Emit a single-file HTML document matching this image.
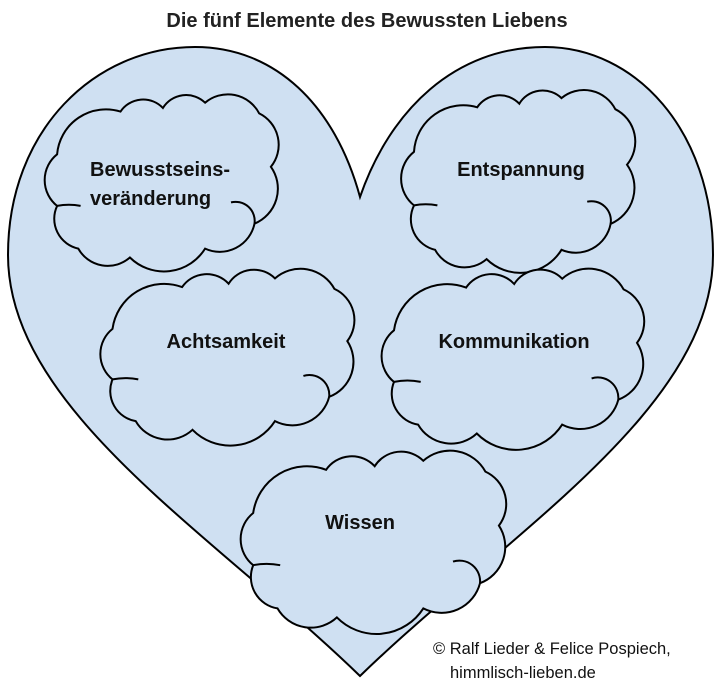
<!DOCTYPE html>
<html><head><meta charset="utf-8">
<style>
html,body{margin:0;padding:0;background:#fff;}
svg{display:block;}
</style></head>
<body>
<svg id="s" width="718" height="696" viewBox="0 0 718 696" xmlns="http://www.w3.org/2000/svg">
<text x="367" y="27" text-anchor="middle" font-family="Liberation Sans, sans-serif" font-weight="bold" font-size="20" fill="#222">Die fünf Elemente des Bewussten Liebens</text>
<path d="M360,197 C335,105 275,47 195,47 C95,47 8,130 8,255 C8,410 215,535 360,676 C505,535 713,410 713,255 C713,130 635,47 545,47 C455,47 390,110 360,197 Z" fill="#cfe0f2" stroke="#000" stroke-width="2"/>
<g id="clouds" fill="#cfe0f2" stroke="#000" stroke-width="2"></g>
<g font-family="Liberation Sans, Arial, sans-serif" font-weight="bold" font-size="20" fill="#111">
<text x="90" y="176">Bewusstseins-</text>
<text x="90" y="205">veränderung</text>
<text x="521" y="176" text-anchor="middle">Entspannung</text>
<text x="226" y="348" text-anchor="middle">Achtsamkeit</text>
<text x="514" y="348" text-anchor="middle">Kommunikation</text>
<text x="360" y="529" text-anchor="middle">Wissen</text>
</g>
<g font-family="Liberation Sans, Arial, sans-serif" font-size="16.5" fill="#111">
<text x="433" y="654">© Ralf Lieder &amp; Felice Pospiech,</text>
<text x="450" y="678">himmlisch-lieben.de</text>
</g>
</svg>
<script>
(function(){
var pts=[[6,35],[33,11],[51,9],[69,6],[92,12],[97,42],[90,74],[69,88],[37,93],[15,88],[6,64]];
var hooks=[[[80,62],[90,74],0.6],[[6,64],[16,64],2.5]];
var boxes=[[43,92,235,178],[400,87,234,185],[97,268,258,174],[378,268,267,178],[237,450,270,180]];
var g=document.getElementById('clouds');
var NS='http://www.w3.org/2000/svg';
boxes.forEach(function(b){
  function T(p){return [b[0]+p[0]/100*b[2], b[1]+p[1]/100*b[3]];}
  var P=pts.map(T);
  var d='M'+P[0][0].toFixed(1)+','+P[0][1].toFixed(1);
  for(var i=0;i<P.length;i++){
    var a=P[i], c=P[(i+1)%P.length];
    var ch=Math.hypot(c[0]-a[0],c[1]-a[1]);
    var r=ch*0.64;
    d+=' A'+r.toFixed(1)+','+r.toFixed(1)+' 0 0 1 '+c[0].toFixed(1)+','+c[1].toFixed(1);
  }
  d+='Z';
  var p=document.createElementNS(NS,'path');
  p.setAttribute('d',d);
  g.appendChild(p);
  hooks.forEach(function(h){
    var a=T(h[0]), c=T(h[1]);
    var ch=Math.hypot(c[0]-a[0],c[1]-a[1]);
    var r=ch*h[2];
    var q=document.createElementNS(NS,'path');
    q.setAttribute('d','M'+a[0].toFixed(1)+','+a[1].toFixed(1)+' A'+r.toFixed(1)+','+r.toFixed(1)+' 0 0 1 '+c[0].toFixed(1)+','+c[1].toFixed(1));
    q.setAttribute('fill','none');
    g.appendChild(q);
  });
});
})();
</script>
</body></html>
